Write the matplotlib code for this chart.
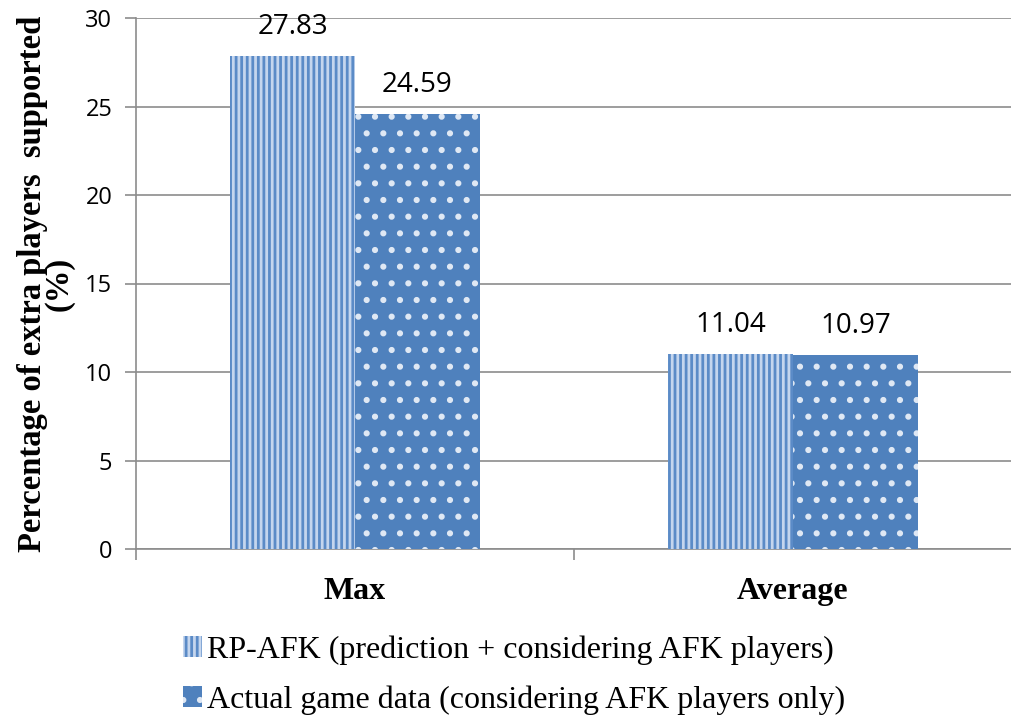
import numpy as np
import matplotlib
matplotlib.use("Agg")
from matplotlib import pyplot as plt

categories = ["Max", "Average"]
rp_afk = [27.83, 11.04]
actual = [24.59, 10.97]
series_names = ["RP-AFK (prediction + considering AFK players)",
                "Actual game data (considering AFK players only)"]

plt.rcParams['hatch.linewidth'] = 2.0

fig = plt.figure(figsize=(10.12, 7.17), dpi=100)
ax = fig.add_axes([136 / 1012, 168 / 717, 1 - 136 / 1012, (549 - 18) / 717])

x = np.arange(len(categories))
w = 0.285
b1 = ax.bar(x - w / 2, rp_afk, w, facecolor="#c5d6ee", edgecolor="#5b8bc7",
            hatch="|||", linewidth=0, zorder=3)
b2 = ax.bar(x + w / 2, actual, w, facecolor="#4f81bd", edgecolor="#dfe8f4",
            hatch=".", linewidth=0, zorder=3)

for bars, vals in ((b1, rp_afk), (b2, actual)):
    for r, v in zip(bars, vals):
        ax.text(r.get_x() + r.get_width() / 2, v + 0.85, f"{v:.2f}",
                ha="center", va="bottom", fontsize=20, family="Open Sans")

ax.set_ylim(0, 30)
ax.set_xlim(-0.5, 1.49)
ax.set_yticks(range(0, 31, 5))
ax.yaxis.grid(True, color="#8c8c8c", linewidth=1.2, zorder=0)
ax.set_axisbelow(True)
ax.tick_params(axis="y", labelsize=17, length=8, color="#8c8c8c", width=1.2, pad=9)
for t in ax.get_yticklabels():
    t.set_family("Open Sans")

ax.set_xticks([-0.5, 0.5, 1.5], minor=True)
ax.tick_params(axis="x", which="minor", length=8, color="#8c8c8c", width=1.2)
ax.set_xticks(x)
ax.set_xticklabels(categories, fontsize=23, fontweight="bold", family="Liberation Serif")
ax.tick_params(axis="x", which="major", length=0, pad=20)

for s in ("top", "right"):
    ax.spines[s].set_visible(False)
for s in ("left", "bottom"):
    ax.spines[s].set_color("#8c8c8c")
    ax.spines[s].set_linewidth(1.2)

ax.set_ylabel("Percentage of extra players  supported\n(%)", fontsize=23.5,
              fontweight="bold", family="Liberation Serif", labelpad=8, linespacing=0.8)

fig.legend([b1, b2], series_names, loc="lower left", bbox_to_anchor=(154 / 1012, -0.037),
           frameon=False, prop={"family": "Liberation Serif", "size": 23},
           handlelength=0.6, handleheight=0.65, handletextpad=0.15, labelspacing=0.65)

fig.savefig("out.png", dpi=100)
